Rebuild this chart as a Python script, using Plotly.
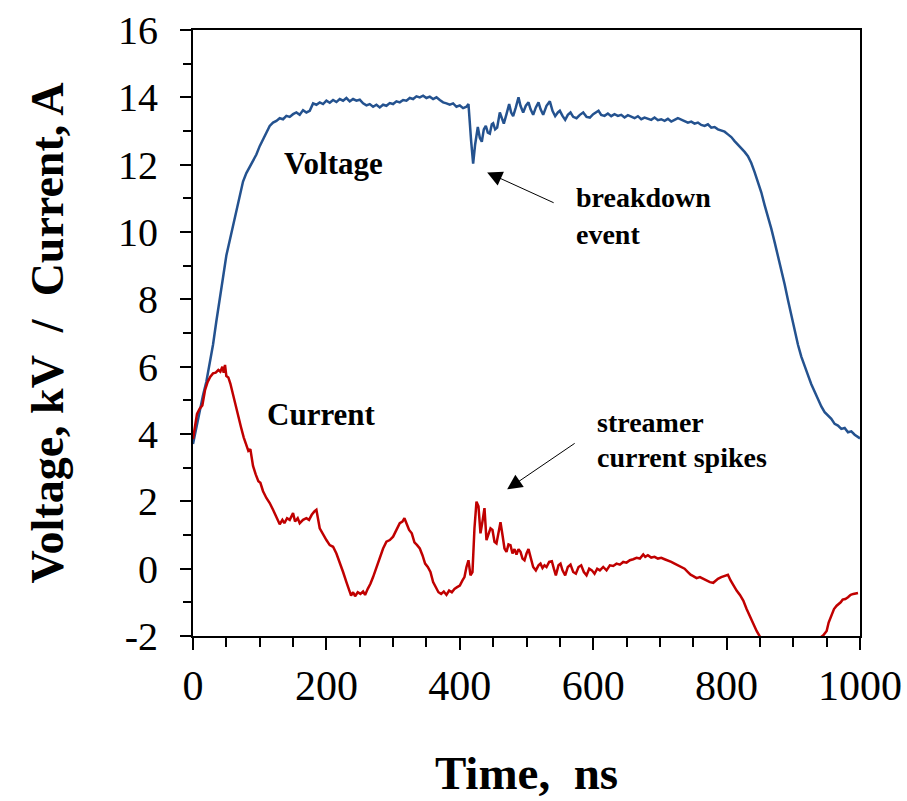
import plotly.graph_objects as go

# Pulse waveform: applied voltage (kV) and discharge current (A) versus time (ns)
volt_t = [0, 5, 10, 15, 20, 25, 30, 35, 40, 45, 50, 55, 60, 65, 70, 75, 80, 85, 90, 95,
          100, 105, 110, 115, 120, 125, 130, 135, 140, 145, 150, 155, 160, 165, 170, 175,
          180, 185, 190, 195, 200, 205, 210, 215, 220, 225, 230, 235, 240, 245, 250, 255,
          260, 265, 270, 275, 280, 285, 290, 295, 300, 305, 310, 315, 320, 325, 330, 335,
          340, 345, 350, 355, 360, 365, 370, 375, 380, 385, 390, 395, 400, 405, 410, 413,
          417, 420, 423, 427, 430, 433, 436, 439, 442, 445, 448, 450, 453, 456, 460, 463,
          466, 470, 474, 477, 480, 484, 488, 491, 495, 499, 503, 506, 510, 514, 518, 521,
          525, 530, 535, 539, 543, 547, 550, 554, 558, 562, 566, 570, 575, 580, 585, 590,
          595, 600, 605, 608, 612, 617, 622, 627, 632, 637, 642, 647, 652, 657, 662, 667,
          672, 677, 682, 687, 692, 697, 702, 707, 712, 717, 722, 727, 732, 737, 742, 747,
          752, 757, 762, 767, 772, 777, 782, 787, 792, 797, 802, 807, 812, 817, 822, 827,
          832, 837, 842, 847, 852, 857, 862, 867, 872, 877, 882, 887, 892, 897, 902, 907,
          912, 917, 922, 927, 932, 937, 942, 947, 952, 957, 962, 967, 972, 977, 982, 987,
          992, 997, 1000]
volt_kv = [3.7, 4.2, 4.7, 5.15, 5.55, 6.05, 6.65, 7.35, 7.95, 8.65, 9.3, 9.75, 10.25, 10.7,
           11.15, 11.5, 11.75, 11.95, 12.15, 12.3, 12.55, 12.75, 12.95, 13.15, 13.25, 13.3,
           13.38, 13.35, 13.45, 13.42, 13.5, 13.55, 13.48, 13.62, 13.55, 13.6, 13.82, 13.78,
           13.85, 13.8, 13.9, 13.84, 13.92, 13.86, 13.95, 13.9, 13.98, 13.88, 13.95, 13.9,
           13.93, 13.82, 13.76, 13.8, 13.72, 13.78, 13.7, 13.78, 13.75, 13.83, 13.8, 13.88,
           13.85, 13.92, 13.9, 13.98, 13.95, 14.03, 14.0, 14.05, 13.98, 14.02, 13.95, 14.0,
           13.92, 13.85, 13.82, 13.78, 13.82, 13.72, 13.76, 13.68, 13.72, 13.8, 12.7, 12.03,
           12.6, 13.12, 12.8, 12.68, 13.05, 13.15, 12.95, 12.92, 13.2, 13.23, 13.05, 13.1,
           13.55, 13.35, 13.22, 13.5, 13.8, 13.55, 13.44, 13.7, 14.0, 13.75, 13.55, 13.75,
           13.85, 13.65, 13.48, 13.7, 13.85, 13.65, 13.48, 13.75, 13.88, 13.6, 13.44, 13.55,
           13.6, 13.45, 13.33, 13.48, 13.55, 13.42, 13.38, 13.48, 13.55, 13.42, 13.4, 13.5,
           13.55, 13.6, 13.48, 13.45, 13.52, 13.44, 13.5, 13.45, 13.48, 13.4, 13.47, 13.42,
           13.38, 13.44, 13.35, 13.4, 13.36, 13.33, 13.4, 13.32, 13.35, 13.3, 13.36, 13.28,
           13.33, 13.38, 13.34, 13.3, 13.25, 13.28, 13.22, 13.25, 13.18, 13.15, 13.2, 13.1,
           13.12, 13.05, 13.02, 12.98, 12.9, 12.82, 12.7, 12.6, 12.5, 12.38, 12.25, 12.05,
           11.78, 11.5, 11.18, 10.8, 10.48, 10.1, 9.7, 9.3, 8.9, 8.45, 7.98, 7.5, 7.05, 6.65,
           6.3, 6.05, 5.75, 5.48, 5.25, 5.0, 4.82, 4.65, 4.55, 4.45, 4.3, 4.25, 4.15, 4.18,
           4.05, 4.08, 3.98, 3.92, 3.87]

curr_t = [0, 3, 6, 10, 14, 18, 22, 26, 30, 34, 38, 41, 44, 46, 48, 50, 53, 56, 60, 64, 68,
          72, 76, 80, 83, 86, 90, 94, 98, 101, 105, 110, 115, 120, 125, 130, 134, 137, 141,
          145, 150, 153, 157, 160, 165, 170, 174, 178, 182, 185, 190, 195, 200, 205, 210,
          215, 220, 225, 230, 234, 237, 240, 243, 247, 251, 255, 258, 262, 266, 270, 275,
          280, 285, 290, 295, 300, 305, 310, 314, 317, 320, 324, 328, 332, 336, 340, 344,
          348, 352, 356, 360, 364, 368, 372, 376, 380, 384, 388, 392, 396, 400, 404, 407,
          410, 413, 416, 419, 422, 425, 428, 431, 434, 437, 440, 443, 446, 449, 452, 455,
          458, 461, 464, 467, 470, 473, 476, 479, 482, 485, 488, 491, 494, 497, 500, 503,
          506, 510, 514, 518, 521, 524, 527, 530, 534, 538, 541, 544, 548, 551, 554, 558,
          562, 566, 570, 574, 578, 582, 586, 590, 594, 598, 602, 606, 610, 615, 620, 625,
          630, 635, 640, 645, 650, 655, 660, 665, 670, 675, 678, 682, 687, 692, 697, 702,
          707, 712, 717, 722, 727, 732, 737, 742, 746, 750, 755, 760, 765, 770, 775, 780,
          787, 792, 797, 802, 806, 810, 815, 820, 825, 830, 835, 840, 845, 850, 854, 870,
          890, 910, 930, 945, 950, 953, 957, 961, 965, 968, 971, 974, 978, 982, 986, 990,
          994, 997, 1000]
curr_a = [3.85, 4.3, 4.6, 4.75, 4.85, 5.3, 5.55, 5.7, 5.8, 5.82, 5.9, 5.85, 6.0, 5.82, 6.05,
          5.72, 5.68, 5.5, 5.15, 4.8, 4.5, 4.2, 3.9, 3.7, 3.5, 3.55, 3.05, 2.8, 2.6, 2.55,
          2.3, 2.1, 1.95, 1.75, 1.55, 1.32, 1.45, 1.35, 1.5, 1.45, 1.65, 1.4, 1.5, 1.35, 1.45,
          1.5, 1.45, 1.6, 1.7, 1.75, 1.2, 1.0, 0.85, 0.7, 0.65, 0.45, 0.2, -0.1, -0.4, -0.6,
          -0.8, -0.7, -0.82, -0.7, -0.75, -0.68, -0.78, -0.6, -0.45, -0.25, 0.05, 0.3, 0.6,
          0.8, 0.85, 0.95, 1.15, 1.35, 1.4, 1.5, 1.35, 1.15, 1.05, 0.78, 0.7, 0.6, 0.4, 0.15,
          0.05, -0.1, -0.4, -0.55, -0.7, -0.75, -0.68, -0.78, -0.65, -0.7, -0.6, -0.55, -0.5,
          -0.35, -0.25, 0.05, 0.25, -0.2, -0.1, 1.2, 1.99, 1.85, 1.05, 1.4, 1.8, 0.85, 1.0,
          1.2, 1.15, 0.8, 0.75, 1.1, 1.38, 1.0, 0.6, 0.5, 0.72, 0.7, 0.45, 0.58, 0.42, 0.58,
          0.5, 0.3, 0.25, 0.45, 0.58, 0.35, 0.05, -0.05, 0.1, 0.15, 0.02, 0.1, 0.05, 0.2,
          0.22, 0.0, -0.2, 0.1, 0.15, -0.05, -0.2, 0.05, 0.12, -0.1, -0.15, 0.05, 0.1, -0.1,
          -0.2, 0.0, -0.05, -0.15, 0.0, -0.05, 0.05, -0.05, 0.1, 0.08, 0.15, 0.12, 0.2, 0.18,
          0.25, 0.28, 0.32, 0.3, 0.42, 0.35, 0.4, 0.33, 0.35, 0.3, 0.32, 0.28, 0.25, 0.2,
          0.15, 0.1, 0.05, 0.0, -0.1, -0.18, -0.22, -0.28, -0.25, -0.3, -0.36, -0.4, -0.42,
          -0.3, -0.25, -0.22, -0.18, -0.35, -0.5, -0.65, -0.78, -0.95, -1.2, -1.42, -1.62,
          -1.85, -2.02, -2.6, -3.0, -3.0, -2.7, -2.2, -1.98, -1.85, -1.6, -1.4, -1.2, -1.1,
          -1.05, -1.0, -0.92, -0.9, -0.85, -0.78, -0.75, -0.72, -0.72]

y_ticks = [-2, 0, 2, 4, 6, 8, 10, 12, 14, 16]
y_tick_text = ["-2", "0", "2", "4", "6", "8", "10", "12", "14", "16"]
x_ticks = [0, 200, 400, 600, 800, 1000]

SERIF = "Times New Roman, Liberation Serif, serif"
BLUE = "#24528F"
RED = "#C00000"

fig = go.Figure()
fig.add_trace(go.Scatter(x=volt_t, y=volt_kv, mode="lines", name="Voltage",
                         line=dict(color=BLUE, width=2.5)))
fig.add_trace(go.Scatter(x=curr_t, y=curr_a, mode="lines", name="Current",
                         line=dict(color=RED, width=2.5)))

axis_common = dict(showgrid=False, zeroline=False, showline=True, linecolor="black",
                   linewidth=2, mirror=True, ticks="outside", tickcolor="black",
                   tickwidth=2, automargin=False)

fig.update_xaxes(range=[0, 1000], tickvals=x_ticks, ticklen=12,
                 tickfont=dict(family=SERIF, size=42, color="black"),
                 minor=dict(dtick=50, ticks="outside", ticklen=9, tickwidth=2,
                            tickcolor="black"),
                 title=dict(text="Time,\u00a0\u00a0ns", standoff=48,
                            font=dict(family=SERIF, size=47, color="black",
                                      weight="bold")),
                 **axis_common)
fig.update_yaxes(range=[-2, 16], tickvals=y_ticks, ticktext=y_tick_text, ticklen=11,
                 ticklabelstandoff=14,
                 tickfont=dict(family=SERIF, size=40, color="black"),
                 minor=dict(dtick=1, ticks="outside", ticklen=8, tickwidth=2,
                            tickcolor="black"),
                 title=dict(text="Voltage, kV\u00a0\u00a0/\u00a0\u00a0Current, A", standoff=40,
                            font=dict(family=SERIF, size=46, color="black",
                                      weight="bold")),
                 **axis_common)

label_font = dict(family=SERIF, size=31, color="black", weight="bold")
note_font = dict(family=SERIF, size=28, color="black", weight="bold")

annotations = [
    dict(x=0.21, y=0.779, xref="paper", yref="paper", text="Voltage", showarrow=False,
         font=label_font, xanchor="center", yanchor="middle"),
    dict(x=0.192, y=0.366, xref="paper", yref="paper", text="Current", showarrow=False,
         font=label_font, xanchor="center", yanchor="middle"),
    dict(x=0.571, y=0.724, xref="paper", yref="paper", text="breakdown", showarrow=False,
         font=note_font, xanchor="left", yanchor="middle"),
    dict(x=0.571, y=0.662, xref="paper", yref="paper", text="event", showarrow=False,
         font=note_font, xanchor="left", yanchor="middle"),
    dict(x=0.603, y=0.352, xref="paper", yref="paper", text="streamer", showarrow=False,
         font=note_font, xanchor="left", yanchor="middle"),
    dict(x=0.603, y=0.295, xref="paper", yref="paper", text="current spikes",
         showarrow=False, font=note_font, xanchor="left", yanchor="middle"),
    # pointer arrows (tip at x/y, tail offset in pixels)
    dict(x=0.441, y=0.765, xref="paper", yref="paper", text="", showarrow=True,
         ax=68, ay=31, axref="pixel", ayref="pixel", arrowhead=2, arrowsize=3,
         arrowwidth=1, arrowcolor="black", standoff=0, startstandoff=0),
    dict(x=0.471, y=0.242, xref="paper", yref="paper", text="", showarrow=True,
         ax=69, ay=-47, axref="pixel", ayref="pixel", arrowhead=2, arrowsize=3,
         arrowwidth=1, arrowcolor="black", standoff=0, startstandoff=0),
]

fig.update_layout(width=907, height=801, margin=dict(l=193, r=47, t=30, b=165),
                  plot_bgcolor="white", paper_bgcolor="white", showlegend=False,
                  annotations=annotations)

fig.write_html("out.html")
